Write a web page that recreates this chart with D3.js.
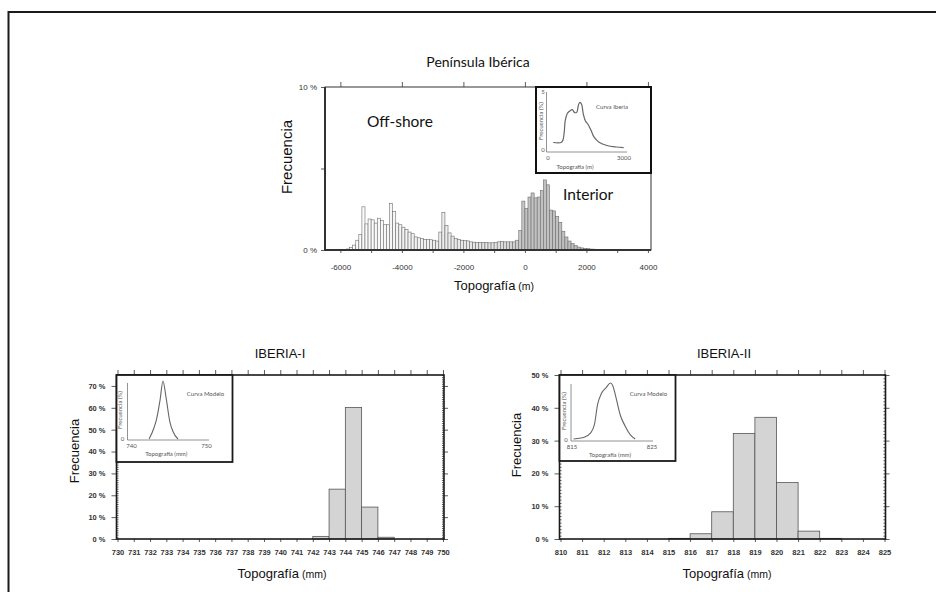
<!DOCTYPE html>
<html>
<head>
<meta charset="utf-8">
<script src="https://cdn.jsdelivr.net/npm/d3@7"></script>
<style>
  body { margin: 0; background: #fff; }
  svg { display: block; }
</style>
</head>
<body>
<div id="chart"></div>
<script>
// ---- data ----
const iberiaBinStart = -6000, iberiaBinWidth = 100;
// frequency (%) per 100 m bin, from -6000 m to 3900 m
const iberiaFreq = [
  0, 0.02, 0.06, 0.15, 0.3, 0.6, 0.95, 2.65, 1.6, 1.9,
  1.85, 1.65, 1.95, 1.8, 1.55, 1.55, 2.85, 2.35, 1.65, 1.55,
  1.4, 1.25, 1.1, 1.0, 0.8, 0.75, 0.7, 0.65, 0.65, 0.63,
  0.6, 0.55, 1.1, 2.3, 1.5, 1.05, 0.85, 0.7, 0.65, 0.6,
  0.58, 0.56, 0.5, 0.48, 0.46, 0.45, 0.45, 0.45, 0.44, 0.44,
  0.45, 0.5, 0.52, 0.5, 0.5, 0.5, 0.5, 0.6, 1.2, 3.0,
  2.55, 3.25, 3.5, 3.2, 3.25, 3.65, 4.3, 4.0, 2.45, 2.4,
  2.05, 1.7, 1.15, 0.8, 0.55, 0.4, 0.27, 0.18, 0.13, 0.1,
  0.08, 0.06, 0.05, 0.04, 0.03, 0.03, 0.02, 0.02, 0.01, 0.01,
  0, 0, 0, 0, 0, 0, 0, 0, 0, 0
];
const curveIberiaX = [250, 540, 610, 660, 700, 780, 880, 960, 1050, 1130, 1190, 1245, 1310, 1370, 1450, 1550, 1660, 1780, 1960, 2250, 2600, 2875];
const curveIberiaY = [0.72, 0.72, 0.9, 1.6, 2.6, 3.2, 3.42, 3.5, 3.25, 3.3, 3.9, 4.12, 3.95, 3.15, 2.55, 2.25, 1.75, 1.15, 0.75, 0.47, 0.34, 0.29];

const iberiaIBins = [742, 743, 744, 745, 746];
const iberiaIFreq = [1.2, 22.8, 60.1, 14.6, 0.8];
const modelIX = [742.35, 743.0, 743.35, 743.8, 744.2, 744.6, 745.1, 745.5, 746.2];
const modelIY = [0, 14, 25, 48, 72, 52, 22, 10, 0];

const iberiaIIBins = [815, 816, 817, 818, 819, 820, 821, 822];
const iberiaIIFreq = [0.2, 1.6, 8.3, 32.2, 37.1, 17.2, 2.4, 0.2];
const modelIIX = [815.2, 816.46, 817.3, 817.8, 818.2, 818.67, 819.3, 819.8, 820.1, 820.5, 821.04, 821.67, 822.3, 822.9];
const modelIIY = [0.8, 2.0, 5.6, 12.6, 29.4, 38.3, 43.4, 47, 44.8, 35, 20.4, 11.2, 4.2, 0.8];

const SANS = '"Liberation Sans", Arial, sans-serif';
const HUMAN = 'Lato, "Open Sans", sans-serif';

const svg = d3.select('#chart')
  .append('svg')
  .attr('width', 936)
  .attr('height', 592);

// page frame
svg.append('rect')
  .attr('x', 8.5).attr('y', 12)
  .attr('width', 1000).attr('height', 1000)
  .attr('fill', 'none')
  .attr('stroke', '#1a1a1a')
  .attr('stroke-width', 2);

function styleAxis(g, size, weight) {
  g.select('.domain').remove();
  g.selectAll('line').attr('stroke', '#333').attr('stroke-width', 0.8);
  g.selectAll('text')
    .attr('font-family', SANS)
    .attr('font-size', size)
    .attr('font-weight', weight || 'normal')
    .attr('fill', '#333');
}

// ================= Península Ibérica =================
const tf = { left: 325, right: 651, top: 87, bottom: 250 };
const xTop = d3.scaleLinear().domain([-6500, 4100]).range([tf.left, tf.right]);
const yTop = d3.scaleLinear().domain([0, 10]).range([tf.bottom, tf.top]);
const shade = d3.scaleLinear()
  .domain([-6000, -1000, 0, 4000])
  .range(['#ffffff', '#e4e4e4', '#c2c2c2', '#bababa'])
  .clamp(true);

const bins = iberiaFreq.map((v, i) => ({ x0: iberiaBinStart + i * iberiaBinWidth, v: v }))
  .filter(d => d.v > 0);

const topG = svg.append('g').attr('class', 'peninsula');

topG.append('g')
  .selectAll('rect')
  .data(bins)
  .join('rect')
  .attr('x', d => xTop(d.x0))
  .attr('width', d => xTop(d.x0 + iberiaBinWidth) - xTop(d.x0))
  .attr('y', d => yTop(d.v))
  .attr('height', d => yTop(0) - yTop(d.v))
  .attr('fill', d => shade(d.x0))
  .attr('stroke', '#6e6e6e')
  .attr('stroke-width', 0.6);

topG.append('g')
  .attr('transform', `translate(0,${tf.bottom})`)
  .call(d3.axisBottom(xTop)
    .tickValues(d3.range(-6000, 4001, 1000))
    .tickSize(3)
    .tickPadding(11)
    .tickFormat(d => d % 2000 === 0 ? String(d) : ''))
  .call(g => styleAxis(g, 8));

topG.append('g')
  .attr('transform', `translate(0,${tf.top})`)
  .call(d3.axisTop(xTop).tickValues(d3.range(-6000, 4001, 2000)).tickSize(5).tickFormat(''))
  .call(g => styleAxis(g, 8));

topG.append('g')
  .attr('transform', `translate(${tf.left},0)`)
  .call(d3.axisLeft(yTop)
    .tickValues([0, 5, 10])
    .tickSize(4)
    .tickPadding(4)
    .tickFormat(d => d === 5 ? '' : d + ' %'))
  .call(g => styleAxis(g, 8));

topG.append('rect')
  .attr('x', tf.left).attr('y', tf.top)
  .attr('width', tf.right - tf.left).attr('height', tf.bottom - tf.top)
  .attr('fill', 'none').attr('stroke', '#333').attr('stroke-width', 1);
topG.append('path')
  .attr('d', `M${tf.left},${tf.top}V${tf.bottom}H${tf.right}`)
  .attr('fill', 'none').attr('stroke', '#333').attr('stroke-width', 2);

topG.append('text')
  .attr('x', 478).attr('y', 67)
  .attr('text-anchor', 'middle')
  .attr('font-family', HUMAN).attr('font-size', 14).attr('fill', '#111')
  .text('Península Ibérica');

topG.append('text')
  .attr('x', 367).attr('y', 127)
  .attr('font-family', HUMAN).attr('font-size', 15.5).attr('fill', '#111')
  .text('Off-shore');

topG.append('text')
  .attr('x', 563).attr('y', 200)
  .attr('font-family', HUMAN).attr('font-size', 15.5).attr('fill', '#111')
  .text('Interior');

topG.append('text')
  .attr('transform', 'translate(292,157) rotate(-90)')
  .attr('text-anchor', 'middle')
  .attr('font-family', SANS).attr('font-size', 15).attr('fill', '#111')
  .text('Frecuencia');

const topXTitle = topG.append('text')
  .attr('x', 494).attr('y', 290)
  .attr('text-anchor', 'middle')
  .attr('font-family', SANS).attr('fill', '#111');
topXTitle.append('tspan').attr('font-size', 13).text('Topografía');
topXTitle.append('tspan').attr('font-size', 10.5).text(' (m)');

// inset: Curva Iberia
const ti = { left: 536, top: 87, width: 115, height: 86 };
topG.append('rect')
  .attr('x', ti.left).attr('y', ti.top)
  .attr('width', ti.width).attr('height', ti.height)
  .attr('fill', '#fff').attr('stroke', '#111').attr('stroke-width', 2);

const xIns = d3.scaleLinear().domain([0, 3000]).range([546.5, 627]);
const yIns = d3.scaleLinear().domain([0, 5]).range([151, 92]);

topG.append('path')
  .attr('d', `M${xIns(0)},${yIns(5)}V${yIns(0) + 1}H${xIns(3000)}`)
  .attr('fill', 'none').attr('stroke', '#777').attr('stroke-width', 0.8);

topG.append('path')
  .datum(curveIberiaX.map((x, i) => [x, curveIberiaY[i]]))
  .attr('d', d3.line().x(d => xIns(d[0])).y(d => yIns(d[1])).curve(d3.curveCatmullRom))
  .attr('fill', 'none').attr('stroke', '#666').attr('stroke-width', 1.2);

const insText = [
  { x: 543, y: 94, t: '5', a: 'middle' },
  { x: 543, y: 152, t: '0', a: 'middle' },
  { x: 548, y: 160, t: '0', a: 'middle' },
  { x: 624, y: 160, t: '3000', a: 'middle' },
  { x: 575, y: 169, t: 'Topografía (m)', a: 'middle' },
  { x: 612, y: 109, t: 'Curva Iberia', a: 'middle' }
];
topG.append('g')
  .selectAll('text')
  .data(insText)
  .join('text')
  .attr('x', d => d.x).attr('y', d => d.y)
  .attr('text-anchor', d => d.a)
  .attr('font-family', HUMAN).attr('font-size', 6).attr('fill', '#555')
  .text(d => d.t);

topG.append('text')
  .attr('transform', 'translate(542.5,121) rotate(-90)')
  .attr('text-anchor', 'middle')
  .attr('font-family', HUMAN).attr('font-size', 6).attr('fill', '#555')
  .text('Frecuencia (%)');

// ================= IBERIA-I / IBERIA-II =================
function panel(cfg) {
  const f = cfg.frame;
  const x = d3.scaleLinear().domain(cfg.xDomain).range([f.left + 1, f.right - 1]);
  const y = d3.scaleLinear().domain([0, cfg.yMax]).range([f.bottom, f.top]);
  const g = svg.append('g').attr('class', 'panel');
  const units = d3.range(cfg.xDomain[0], cfg.xDomain[1] + 1, 1);

  g.append('g')
    .selectAll('rect')
    .data(cfg.bins.map((b, i) => ({ b: b, v: cfg.freq[i] })))
    .join('rect')
    .attr('x', d => x(d.b))
    .attr('width', d => x(d.b + 1) - x(d.b))
    .attr('y', d => y(d.v))
    .attr('height', d => y(0) - y(d.v))
    .attr('fill', '#d4d4d4')
    .attr('stroke', '#555')
    .attr('stroke-width', 0.8);

  // bottom
  g.append('g')
    .attr('transform', `translate(0,${f.bottom})`)
    .call(d3.axisBottom(x).tickValues(units).tickSize(3).tickPadding(8).tickFormat(d => String(d)))
    .call(s => styleAxis(s, 7.5, 'bold'));
  // top
  g.append('g')
    .attr('transform', `translate(0,${f.top})`)
    .call(d3.axisTop(x).tickValues(units).tickSize(5).tickFormat(''))
    .call(s => styleAxis(s, 7.5));
  // left, major outward
  g.append('g')
    .attr('transform', `translate(${f.left},0)`)
    .call(d3.axisLeft(y).tickValues(d3.range(0, cfg.yMax + 1, 10)).tickSize(5).tickPadding(6).tickFormat(d => d + ' %'))
    .call(s => styleAxis(s, 7.5, 'bold'));
  // left, minor inward
  g.append('g')
    .attr('transform', `translate(${f.left},0)`)
    .call(d3.axisRight(y).tickValues(d3.range(0, cfg.yMax + 1, 1)).tickSize(2).tickFormat(''))
    .call(s => styleAxis(s, 7.5));
  // right, major crossing and minor inward
  g.append('g')
    .attr('transform', `translate(${f.right},0)`)
    .call(d3.axisRight(y).tickValues(d3.range(0, cfg.yMax + 1, 10)).tickSize(4).tickFormat(''))
    .call(s => styleAxis(s, 7.5));
  g.append('g')
    .attr('transform', `translate(${f.right},0)`)
    .call(d3.axisLeft(y).tickValues(d3.range(0, cfg.yMax + 1, 1)).tickSize(2).tickFormat(''))
    .call(s => styleAxis(s, 7.5));

  g.append('rect')
    .attr('x', f.left).attr('y', f.top)
    .attr('width', f.right - f.left).attr('height', f.bottom - f.top)
    .attr('fill', 'none').attr('stroke', '#1a1a1a').attr('stroke-width', 1.6);

  g.append('text')
    .attr('x', cfg.titleX).attr('y', 358)
    .attr('text-anchor', 'middle')
    .attr('font-family', SANS).attr('font-size', 13).attr('fill', '#111')
    .text(cfg.title);

  g.append('text')
    .attr('transform', `translate(${cfg.yTitleX},${cfg.yTitleY}) rotate(-90)`)
    .attr('text-anchor', 'middle')
    .attr('font-family', SANS).attr('font-size', 13).attr('fill', '#111')
    .text('Frecuencia');

  const xt = g.append('text')
    .attr('x', cfg.xTitleX).attr('y', 578)
    .attr('text-anchor', 'middle')
    .attr('font-family', SANS).attr('fill', '#111');
  xt.append('tspan').attr('font-size', 13).text('Topografía');
  xt.append('tspan').attr('font-size', 10.5).text(' (mm)');

  // inset
  const ins = cfg.inset;
  g.append('rect')
    .attr('x', f.left).attr('y', f.top)
    .attr('width', ins.width).attr('height', ins.height)
    .attr('fill', '#fff').attr('stroke', '#1a1a1a').attr('stroke-width', 1.8);

  const xi = d3.scaleLinear().domain(ins.xDomain).range(ins.xRange);
  const yi = d3.scaleLinear().domain([0, ins.yMax]).range(ins.yRange);

  g.append('path')
    .attr('d', `M${ins.axisX},${ins.yTop}V${ins.yRange[0] + 1}H${ins.axisEnd}`)
    .attr('fill', 'none').attr('stroke', '#777').attr('stroke-width', 0.8);

  g.append('path')
    .datum(ins.cx.map((v, i) => [v, ins.cy[i]]))
    .attr('d', d3.line().x(d => xi(d[0])).y(d => yi(d[1])).curve(d3.curveMonotoneX))
    .attr('fill', 'none').attr('stroke', '#666').attr('stroke-width', 1.1);

  const base = ins.yRange[0];
  const labels = [
    { x: xi(ins.xDomain[0]), y: base + 8.5, t: String(ins.xDomain[0]) },
    { x: xi(ins.xDomain[1]), y: base + 8.5, t: String(ins.xDomain[1]) },
    { x: ins.axisX - 5, y: base + 1.5, t: '0' },
    { x: (ins.axisX + ins.axisEnd) / 2 - 2, y: base + 16.5, t: 'Topografía (mm)' },
    { x: f.left + ins.width - 27, y: f.top + 21, t: 'Curva Modelo' }
  ];
  g.append('g')
    .selectAll('text')
    .data(labels)
    .join('text')
    .attr('x', d => d.x).attr('y', d => d.y)
    .attr('text-anchor', 'middle')
    .attr('font-family', HUMAN).attr('font-size', 6).attr('fill', '#555')
    .text(d => d.t);

  g.append('text')
    .attr('transform', `translate(${ins.axisX - 5.5},${(ins.yTop + base) / 2 - 1}) rotate(-90)`)
    .attr('text-anchor', 'middle')
    .attr('font-family', HUMAN).attr('font-size', 6).attr('fill', '#555')
    .text('Frecuencia (%)');
}

panel({
  frame: { left: 116.5, right: 444, top: 375, bottom: 539 },
  xDomain: [730, 750],
  yMax: 75,
  bins: iberiaIBins,
  freq: iberiaIFreq,
  title: 'IBERIA-I',
  titleX: 280,
  xTitleX: 282,
  yTitleX: 79,
  yTitleY: 451,
  inset: {
    width: 116, height: 87,
    xDomain: [740, 750], xRange: [131.5, 206.5],
    yMax: 72, yRange: [439, 381],
    axisX: 127.5, axisEnd: 209, yTop: 383,
    cx: modelIX, cy: modelIY
  }
});

panel({
  frame: { left: 559.5, right: 885.5, top: 375, bottom: 539 },
  xDomain: [810, 825],
  yMax: 50,
  bins: iberiaIIBins,
  freq: iberiaIIFreq,
  title: 'IBERIA-II',
  titleX: 724,
  xTitleX: 727,
  yTitleX: 521,
  yTitleY: 445,
  inset: {
    width: 116, height: 86,
    xDomain: [815, 825], xRange: [572, 652],
    yMax: 47, yRange: [440, 383],
    axisX: 571, axisEnd: 653, yTop: 384,
    cx: modelIIX, cy: modelIIY
  }
});
</script>
</body>
</html>
